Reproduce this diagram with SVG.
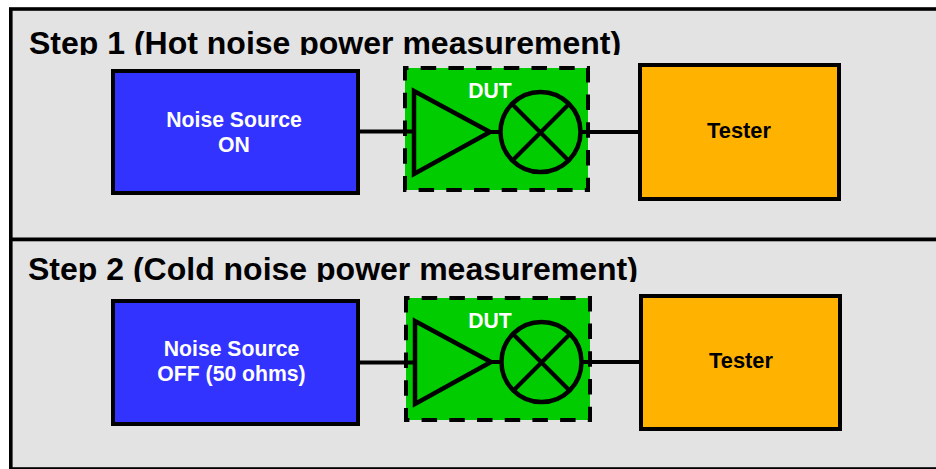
<svg xmlns="http://www.w3.org/2000/svg" width="936" height="469" viewBox="0 0 936 469">
<style>
text{font-family:"Liberation Sans",Arial,sans-serif;font-weight:700;text-anchor:middle}
.panel{fill:#e3e3e3;stroke:#000;stroke-width:3.600}
.title{font-size:32px;text-anchor:start;fill:#000}
.box{stroke:#000;stroke-width:4}
.src{fill:#3333ff}
.test{fill:#ffb200}
.dut{fill:#00cc00;stroke:#000;stroke-width:4;stroke-dasharray:15.500 12.200;stroke-dashoffset:12}
.sym{fill:#00cc00;stroke:#000;stroke-width:4.500}
.line{fill:none;stroke:#000;stroke-width:4.200}
.wl{font-size:21.200px;fill:#fff}
.bl{font-size:21.800px;fill:#000}
</style>
<defs>
<clipPath id="c1"><rect x="13" y="11" width="923" height="44"/></clipPath>
<clipPath id="c2"><rect x="13" y="242" width="923" height="40"/></clipPath>
</defs>
<g id="panel1">
<rect class="panel" x="10.800" y="9" width="930" height="230.500"/>
<text class="title" x="29" y="54" clip-path="url(#c1)">Step 1 (Hot noise power measurement)</text>
</g>
<g id="panel2">
<rect class="panel" x="10.800" y="239.500" width="930" height="229.500"/>
<text class="title" x="28" y="280" clip-path="url(#c2)">Step 2 (Cold noise power measurement)</text>
</g>
<g id="source1">
<rect class="box src" x="113" y="71" width="245" height="122"/>
<text class="wl" x="234" y="127">Noise Source</text>
<text class="wl" x="234" y="152">ON</text>
</g>
<g id="dut1">
<rect class="dut" x="405" y="68" width="183" height="122"/>
<path class="sym" d="M414 91V174L490 132Z"/>
<circle class="sym" cx="540.500" cy="132" r="40"/>
<path class="line" d="M513 105L568 160M568 105L513 160"/>
<text class="wl" x="490" y="98">DUT</text>
</g>
<g id="tester1">
<rect class="box test" x="640" y="65" width="199" height="134"/>
<text class="bl" x="739" y="138">Tester</text>
</g>
<g id="source2">
<rect class="box src" x="113" y="301" width="245" height="123"/>
<text class="wl" x="231.500" y="356">Noise Source</text>
<text class="wl" x="231.500" y="381">OFF (50 ohms)</text>
</g>
<g id="dut2">
<rect class="dut" x="406" y="298" width="184" height="122"/>
<path class="sym" d="M415 321V404L491 362Z"/>
<circle class="sym" cx="541.500" cy="362" r="40"/>
<path class="line" d="M514 335L569 390M569 335L514 390"/>
<text class="wl" x="490" y="328">DUT</text>
</g>
<g id="tester2">
<rect class="box test" x="641" y="296" width="199" height="133"/>
<text class="bl" x="741" y="368">Tester</text>
</g>
<g id="connectors">
<path class="line" d="M359 131.500H412M490 132H500M581 132H640"/>
<path class="line" d="M359 362.500H413M491 362H501M582 362H640"/>
</g>
</svg>
